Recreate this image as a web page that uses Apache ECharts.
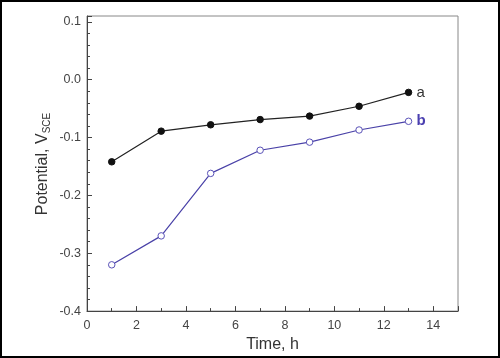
<!DOCTYPE html>
<html>
<head>
<meta charset="utf-8">
<script src="https://cdn.jsdelivr.net/npm/echarts@6/dist/echarts.min.js"></script>
<style>html,body{margin:0;padding:0;background:#fff}#c{width:500px;height:358px}</style>
</head>
<body>
<div id="c"></div>
<script>
const timeH = [1, 3, 5, 7, 9, 11, 13];
const seriesA = [-0.142, -0.089, -0.078, -0.069, -0.063, -0.046, -0.022];
const seriesB = [-0.320, -0.270, -0.162, -0.122, -0.108, -0.087, -0.072];
const seriesNames = ['a', 'b'];
const xTickLabels = [0, 2, 4, 6, 8, 10, 12, 14];
const yTickLabels = ['-0.4', '-0.3', '-0.2', '-0.1', '0.0', '0.1'];

const chart = echarts.init(document.getElementById('c'));
const labelFont = { fontFamily: 'Liberation Sans, Arial', fontSize: 12.5, color: '#444' };
function pair(xs, ys) { return xs.map((x, i) => [x, ys[i]]); }

chart.setOption({
  animation: false,
  backgroundColor: '#fff',
  grid: { left: 87, right: 42, top: 16, bottom: 46, show: true, borderColor: '#888', borderWidth: 1 },
  xAxis: [
    {
      type: 'value', min: 0, max: 15, interval: 2,
      axisLine: { show: true, onZero: false, lineStyle: { color: '#444', width: 1 } },
      axisTick: { show: true, inside: true, length: 5, lineStyle: { color: '#444' } },
      axisLabel: Object.assign({ margin: 8, formatter: v => (xTickLabels.indexOf(v) >= 0 ? String(v) : '') }, labelFont),
      splitLine: { show: false },
      name: 'Time, h', nameLocation: 'middle', nameGap: 22,
      nameTextStyle: { fontFamily: 'Liberation Sans, Arial', fontSize: 16, color: '#333' }
    },
    {
      type: 'value', min: 0, max: 15, interval: 1, position: 'bottom',
      axisLine: { show: false, onZero: false },
      axisTick: { show: true, inside: true, length: 3, lineStyle: { color: '#444' } },
      axisLabel: { show: false }, splitLine: { show: false }
    }
  ],
  yAxis: [
    {
      type: 'value', min: -0.4, max: 0.11, interval: 0.1,
      axisLine: { show: true, onZero: false, lineStyle: { color: '#444', width: 1 } },
      axisTick: { show: true, inside: true, length: 5, lineStyle: { color: '#444' } },
      axisLabel: Object.assign({ margin: 6, formatter: v => {
        const s = v.toFixed(1);
        return (Math.abs(v * 10 - Math.round(v * 10)) < 1e-6 && yTickLabels.indexOf(s) >= 0) ? s : '';
      } }, labelFont),
      splitLine: { show: false }
    },
    {
      type: 'value', min: -0.4, max: 0.11, interval: 0.02, position: 'left',
      axisLine: { show: false, onZero: false },
      axisTick: { show: true, inside: true, length: 3, lineStyle: { color: '#444' } },
      axisLabel: { show: false }, splitLine: { show: false }
    }
  ],
  graphic: [
    { type: 'rect', shape: { x: 1, y: 1, width: 498, height: 356 }, style: { fill: 'none', stroke: '#000', lineWidth: 2 }, z: 100 },
    {
      type: 'text', x: 43, y: 164, rotation: Math.PI / 2,
      style: {
        text: '{m|Potential, V}{s|SCE}',
        align: 'center', verticalAlign: 'middle',
        rich: {
          m: { fontFamily: 'Liberation Sans, Arial', fontSize: 16, fill: '#333', lineHeight: 18 },
          s: { fontFamily: 'Liberation Sans, Arial', fontSize: 10, fill: '#333', verticalAlign: 'bottom', lineHeight: 11, padding: [9, 0, 0, 0] }
        }
      }
    }
  ],
  series: [
    {
      name: seriesNames[0], type: 'line', data: pair(timeH, seriesA),
      symbol: 'circle', symbolSize: 6.5,
      lineStyle: { color: '#222', width: 1.2 },
      itemStyle: { color: '#111', borderColor: '#111' },
      endLabel: { show: true, formatter: '{a}', distance: 8, fontFamily: 'Liberation Sans, Arial', fontSize: 15, color: '#333' }
    },
    {
      name: seriesNames[1], type: 'line', data: pair(timeH, seriesB),
      symbol: 'circle', symbolSize: 6.5,
      lineStyle: { color: '#4a42a8', width: 1.2 },
      itemStyle: { color: '#fff', borderColor: '#5a52b8', borderWidth: 1 },
      endLabel: { show: true, formatter: '{a}', distance: 8, fontFamily: 'Liberation Sans, Arial', fontSize: 15, fontWeight: 'bold', color: '#4a3fb0' }
    }
  ]
});
</script>
</body>
</html>
